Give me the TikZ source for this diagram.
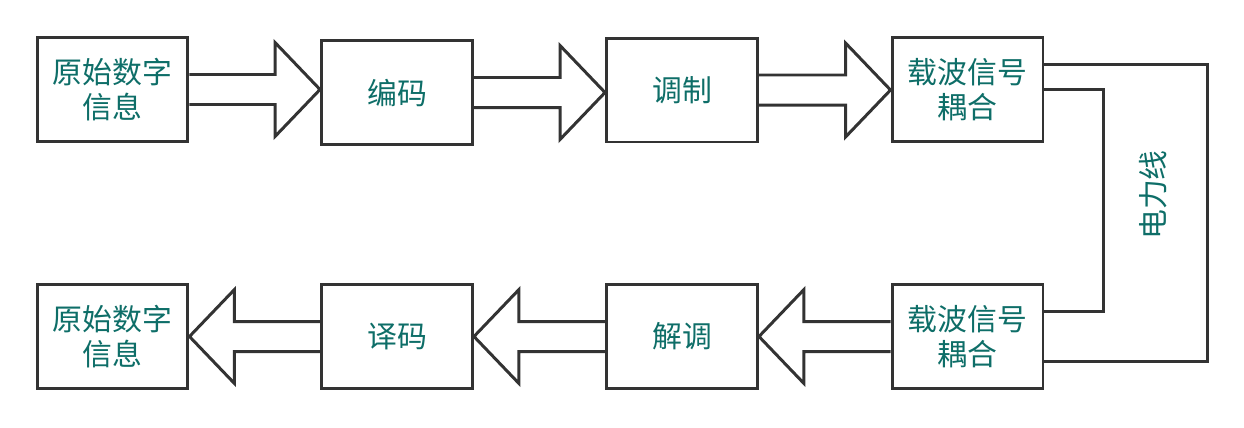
\documentclass[tikz,border=0pt]{standalone}
\usepackage{fontspec}
\newfontfamily\cjk{Noto Sans CJK SC}
\usetikzlibrary{calc}

\definecolor{inkline}{RGB}{51,51,51}
\definecolor{inktext}{RGB}{14,110,104}

\tikzset{
    blockbox/.style={draw=inkline, line width=1.7pt, fill=white,
        minimum width=3.02cm, minimum height=2.08cm, inner sep=0pt,
        align=center, text=inktext, font=\cjk\fontsize{17}{19.5}\selectfont},
    fat/.style={draw=inkline, line width=1.7pt, line join=miter},
    wire/.style={draw=inkline, line width=1.7pt},
    lbl/.style={text=inktext, font=\cjk\fontsize{17}{19.5}\selectfont}
}

% hollow block arrow: #1 tail anchor, #2 head anchor, #3 = 1 right, -1 left
\newcommand{\fatarrow}[3]{%
    \coordinate (tip) at (#2 |- #1);
    \draw[fat] ($(#1)+(0,-15)$) -- ($(tip)+(-45*#3,-15)$) -- ($(tip)+(-45*#3,-47)$)
        -- (tip) -- ($(tip)+(-45*#3,47)$) -- ($(tip)+(-45*#3,15)$) -- ($(#1)+(0,15)$);
}

\begin{document}
\begin{tikzpicture}[x=0.02cm, y=-0.02cm]

    \useasboundingbox (0,0) rectangle (1244,427);

    % Fila superior: emisor
    \node[blockbox] (src)  at (112.5, 89.5) {原始数字\\信息};
    \node[blockbox] (enc)  at (397,   92.5) {编码};
    \node[blockbox] (mod)  at (682,   90)   {调制};
    \node[blockbox] (cplA) at (967.5, 89.5) {载波信号\\耦合};

    % Fila inferior: receptor
    \node[blockbox] (dst)  at (112.5, 336.5) {原始数字\\信息};
    \node[blockbox] (dec)  at (397,   336.5) {译码};
    \node[blockbox] (dem)  at (682,   336.5) {解调};
    \node[blockbox] (cplB) at (967.5, 336.5) {载波信号\\耦合};

    % Flechas huecas
    \fatarrow{src.east}{enc.west}{1}
    \fatarrow{enc.east}{mod.west}{1}
    \fatarrow{mod.east}{cplA.west}{1}
    \fatarrow{cplB.west}{dem.east}{-1}
    \fatarrow{dem.west}{dec.east}{-1}
    \fatarrow{dec.west}{dst.east}{-1}

    % Linea de potencia
    \draw[wire] ($(cplA.east)+(0,-25)$) -| ($(cplB.east)+(163,25)$) -- ($(cplB.east)+(0,25)$);
    \draw[wire] (cplA.east) -| ($(cplB.east)+(59,-25)$) -- ($(cplB.east)+(0,-25)$);
    \node[lbl, rotate=90] (power) at (1153,195) {电力线};

\end{tikzpicture}
\end{document}
